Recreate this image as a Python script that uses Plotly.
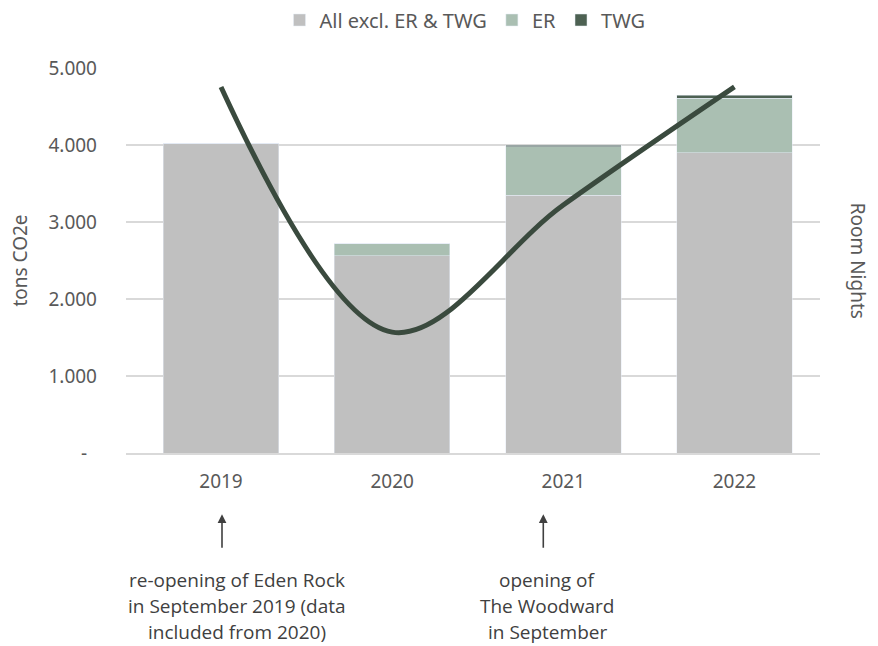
import plotly.graph_objects as go

years = ["2019", "2020", "2021", "2022"]
all_excl = [4020, 2565, 3345, 3897]
er = [0, 155, 635, 708]
twg = [0, 0, 20, 43]
room_nights = [4754, 1570, 3220, 4754]

tick_vals = [0, 1000, 2000, 3000, 4000, 5000]
tick_text = ["-\u00a0\u00a0", "1.000", "2.000", "3.000", "4.000", "5.000"]

font_main = "Noto Sans"
txt_col = "#595959"

fig = go.Figure()
fig.add_bar(x=years, y=all_excl, name="All excl. ER & TWG", marker_color="#c0c0c0")
fig.add_bar(x=years, y=er, name="ER", marker_color="#aabfb2")
fig.add_bar(x=years, y=twg, name="TWG", marker_color="#4d6152")
fig.add_scatter(x=years, y=room_nights, yaxis="y2", mode="lines", showlegend=False,
                line=dict(color="#3a4a3e", width=5, shape="spline", smoothing=1.0))

# page body has an 8px margin; margins compensate for it
fig.update_layout(
    width=878, height=646,
    margin=dict(l=118, r=66, t=60, b=201),
    barmode="stack", bargap=0.325,
    plot_bgcolor="white", paper_bgcolor="white",
    font=dict(family=font_main, size=20, color=txt_col),
    legend=dict(orientation="h", x=0.4885, xanchor="center",
                y=1 - 12 / 646, yanchor="middle", yref="container",
                font=dict(size=20, color=txt_col), traceorder="normal", itemwidth=30),
    xaxis=dict(type="category", showline=True, linecolor="#d9d9d9", linewidth=1.5, ticks="",
               tickfont=dict(size=19, color=txt_col), ticklabelstandoff=10, automargin=False),
    yaxis=dict(range=[0, 5000], tickvals=tick_vals, ticktext=tick_text, showgrid=True,
               gridcolor="#d9d9d9", gridwidth=1.5, zeroline=False, ticks="",
               tickfont=dict(size=19, color=txt_col), ticklabelstandoff=28, automargin=False),
    yaxis2=dict(range=[0, 5000], overlaying="y", side="right", showticklabels=False,
                showgrid=False, zeroline=False, automargin=False),
)

fig.add_annotation(text="tons CO2e", textangle=-90, xref="x domain", yref="y domain",
                   x=-0.154, xanchor="center", y=0.5, showarrow=False,
                   font=dict(size=19, color=txt_col))
fig.add_annotation(text="Room Nights", textangle=90, xref="x domain", yref="y domain",
                   x=1.056, xanchor="center", y=0.5, showarrow=False,
                   font=dict(size=19, color=txt_col))

ann_font = dict(family="Open Sans", size=19, color="#404040")
line_y = [-0.331, -0.398, -0.466]
notes = [
    (0, 1, 16, ["re-opening of Eden Rock", "in September 2019 (data", "included from 2020)"]),
    (2, -20, -16, ["opening of", "The Woodward", "in September"]),
]
for idx, ashift, tshift, lines in notes:
    fig.add_annotation(text="", xref="x", yref="y domain", x=idx, y=-0.159, xshift=ashift,
                       showarrow=True, ax=0, ay=35, arrowhead=2, arrowsize=1.1,
                       arrowwidth=1.6, arrowcolor="#404040", standoff=0)
    for ly, line in zip(line_y, lines):
        fig.add_annotation(text=line, xref="x", yref="y domain", x=idx, xshift=tshift,
                           y=ly, yanchor="middle", showarrow=False, font=ann_font)

fig.write_html("out.html")
